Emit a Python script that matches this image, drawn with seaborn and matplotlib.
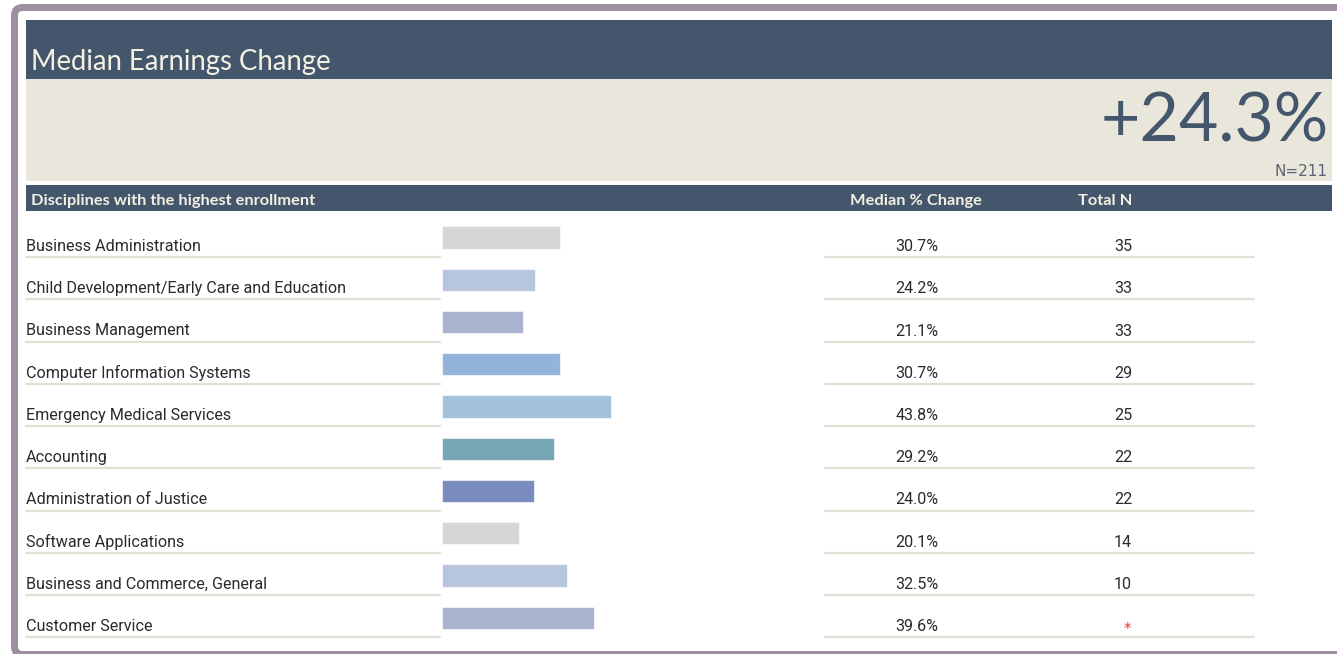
import matplotlib
matplotlib.use("Agg")
import matplotlib.pyplot as plt
from matplotlib import font_manager
from matplotlib.patches import Rectangle, FancyBboxPatch
import seaborn as sns
import pandas as pd


title = "Median Earnings Change"
overall_change = "+24.3%"
overall_n = "N=211"
col_headers = ["Disciplines with the highest enrollment", "Median % Change", "Total N"]

disciplines = [
    "Business Administration",
    "Child Development/Early Care and Education",
    "Business Management",
    "Computer Information Systems",
    "Emergency Medical Services",
    "Accounting",
    "Administration of Justice",
    "Software Applications",
    "Business and Commerce, General",
    "Customer Service",
]
median_change = [30.7, 24.2, 21.1, 30.7, 43.8, 29.2, 24.0, 20.1, 32.5, 39.6]
total_n = ["35", "33", "33", "29", "25", "22", "22", "14", "10", "*"]
bar_colors = ["#d6d6d6", "#b7c6dd", "#a9b3cf", "#94b3da", "#a4c1da",
              "#77a6b6", "#7a8bbd", "#d6d6d6", "#b7c6dd", "#a9b3cf"]

df = pd.DataFrame({"discipline": disciplines, "change": median_change, "n": total_n})

navy = "#44566b"
beige = "#e9e7dc"
frame = "#9d8fa0"
rule = "#e3e0d3"
cream = "#f3f0e4"
ink = "#2a2a2a"

sns.set_theme(style="white")
installed = {f.name for f in font_manager.fontManager.ttflist}
narrow = "Liberation Sans Narrow" if "Liberation Sans Narrow" in installed else "Roboto"
plt.rcParams["font.family"] = ["Lato", "DejaVu Sans"]

W, H = 1337, 654
fig = plt.figure(figsize=(W / 100, H / 100), dpi=100)

# pixel-space background layer
bg = fig.add_axes([0, 0, 1, 1])
bg.set_xlim(0, W)
bg.set_ylim(H, 0)
bg.axis("off")

bg.add_patch(FancyBboxPatch((14.5, 7.5), 1400, 647, boxstyle="round,pad=0,rounding_size=8",
                            fc="white", ec=frame, lw=7 * 0.72))
bg.add_patch(Rectangle((26, 20), 1306, 59, fc=navy, ec="none"))
bg.add_patch(Rectangle((26, 79), 1306, 102, fc=beige, ec="none"))
bg.add_patch(Rectangle((26, 185), 1306, 26, fc=navy, ec="none"))

bg.text(31, 70, title, color=cream, fontsize=19.8, va="baseline", ha="left")
bg.text(1329, 141.5, overall_change, color=navy, fontsize=49, va="baseline", ha="right")
bg.text(1327, 176.5, overall_n, color="#5b6475", fontsize=11, family="DejaVu Sans",
        va="baseline", ha="right")

bg.text(31, 205, col_headers[0], color=cream, fontsize=11.8, fontweight="bold",
        va="baseline", ha="left")
bg.text(916, 205, col_headers[1], color=cream, fontsize=11.8, fontweight="bold",
        va="baseline", ha="center")
bg.text(1105, 205, col_headers[2], color=cream, fontsize=11.8, fontweight="bold",
        va="baseline", ha="center")

# table rows
row0, step = 237.5, 42.25
for i, row in df.iterrows():
    yc = row0 + step * i
    bg.text(26, yc + 13.5, row["discipline"], color=ink, fontsize=11.6,
            family=narrow, va="baseline", ha="left")
    bg.text(917, yc + 13.5, f"{row['change']:.1f}%", color=ink, fontsize=11.6,
            family=narrow, va="baseline", ha="center")
    if row["n"] == "*":
        bg.text(1127, yc + 16, "*", color="#e8322f", fontsize=10.8,
                family="DejaVu Sans", va="baseline", ha="center")
    else:
        bg.text(1123, yc + 13.5, row["n"], color=ink, fontsize=11.6,
                family=narrow, va="baseline", ha="center")
    bg.plot([26, 440], [yc + 19.5, yc + 19.5], color=rule, lw=1.6)
    bg.plot([825, 1254], [yc + 19.5, yc + 19.5], color=rule, lw=1.6)

# bars
top_px = row0 - step / 2
bot_px = row0 + step * 9.5
ax = fig.add_axes([442 / W, 1 - bot_px / H, 385 / W, (bot_px - top_px) / H])
ax.patch.set_alpha(0)
sns.barplot(data=df, x="change", y="discipline", hue="discipline", palette=bar_colors,
            saturation=1, width=0.53, legend=False, orient="h", ax=ax,
            edgecolor=(1, 1, 1, 0.6), linewidth=0.8)
ax.set_xlim(0, 100)
ax.set_ylim(9.5, -0.5)
ax.axis("off")

fig.savefig("out.png", dpi=100)
